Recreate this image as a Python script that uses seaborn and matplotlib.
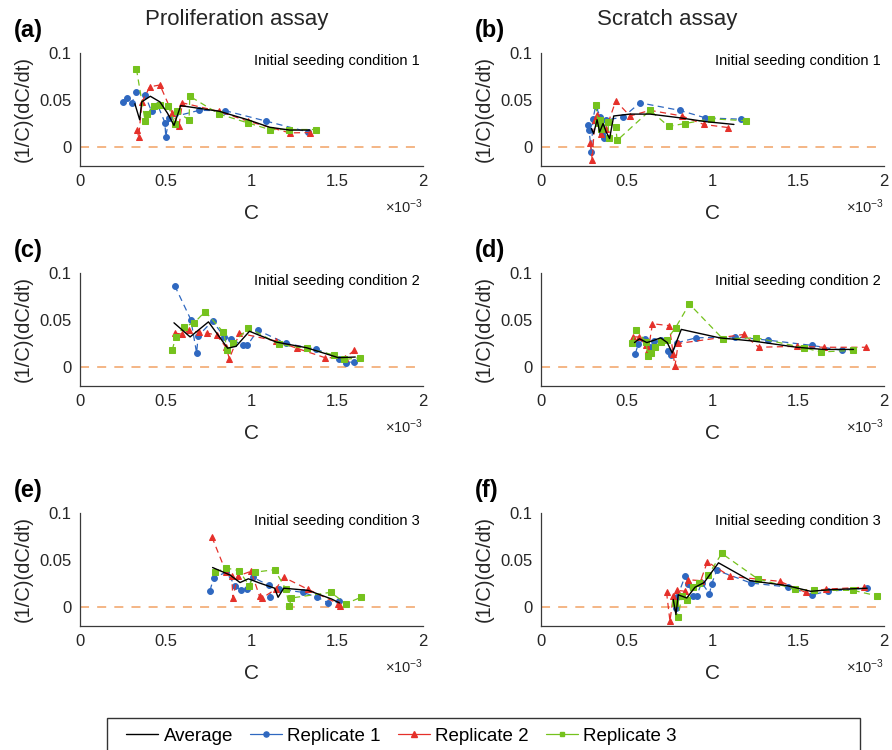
import matplotlib
matplotlib.use("Agg")
import matplotlib.pyplot as plt
from matplotlib.lines import Line2D
from matplotlib.patches import Rectangle
import seaborn as sns

# ---------------------------------------------------------------------------
# Data: per-capita growth rate (1/C)(dC/dt) against density C (C in units of 1e-3)
# ---------------------------------------------------------------------------
# (a) Proliferation assay, initial seeding condition 1
A_R1_C = [0.25, 0.274, 0.303, 0.329, 0.38, 0.417, 0.452, 0.495, 0.50, 0.52, 0.695, 0.847, 1.086, 1.33]
A_R1_V = [0.048, 0.0525, 0.047, 0.059, 0.055, 0.038, 0.045, 0.026, 0.011, 0.031, 0.039, 0.0386, 0.0275, 0.016]
A_R2_C = [0.333, 0.342, 0.362, 0.407, 0.466, 0.538, 0.577, 0.597, 0.808, 0.978, 1.223, 1.34]
A_R2_V = [0.0186, 0.0107, 0.048, 0.064, 0.066, 0.036, 0.022, 0.047, 0.038, 0.0275, 0.015, 0.0154]
A_R3_C = [0.329, 0.38, 0.391, 0.43, 0.466, 0.515, 0.554, 0.564, 0.636, 0.64, 0.812, 0.978, 1.106, 1.219, 1.376]
A_R3_V = [0.083, 0.0275, 0.035, 0.0436, 0.045, 0.0436, 0.024, 0.038, 0.0286, 0.054, 0.035, 0.0257, 0.0186, 0.0186, 0.0186]
A_AV_C = [0.32, 0.348, 0.36, 0.41, 0.466, 0.51, 0.548, 0.587, 0.812, 0.978, 1.106, 1.223, 1.34]
A_AV_V = [0.046, 0.029, 0.048, 0.054, 0.048, 0.036, 0.023, 0.044, 0.038, 0.029, 0.021, 0.018, 0.018]

# (b) Scratch assay, initial seeding condition 1
B_R1_C = [0.274, 0.28, 0.294, 0.303, 0.319, 0.346, 0.358, 0.37, 0.38, 0.48, 0.577, 0.808, 0.959, 1.164]
B_R1_V = [0.023, 0.018, -0.005, 0.030, 0.0436, 0.032, 0.014, 0.01, 0.0286, 0.032, 0.047, 0.039, 0.031, 0.0296]
B_R2_C = [0.288, 0.299, 0.313, 0.327, 0.352, 0.38, 0.436, 0.519, 0.636, 0.822, 0.949, 1.09]
B_R2_V = [0.004, -0.014, 0.029, 0.034, 0.014, 0.0196, 0.049, 0.033, 0.039, 0.033, 0.024, 0.0207]
B_R3_C = [0.319, 0.333, 0.342, 0.352, 0.391, 0.395, 0.436, 0.444, 0.636, 0.744, 0.841, 0.992, 1.194]
B_R3_V = [0.0446, 0.0257, 0.0286, 0.0196, 0.027, 0.01, 0.021, 0.007, 0.039, 0.022, 0.025, 0.030, 0.028]
B_AV_C = [0.294, 0.307, 0.327, 0.342, 0.362, 0.38, 0.40, 0.424, 0.519, 0.636, 0.812, 0.959, 1.125]
B_AV_V = [0.0196, 0.0143, 0.029, 0.016, 0.025, 0.016, 0.009, 0.033, 0.035, 0.035, 0.031, 0.027, 0.024]

# (c) Proliferation assay, initial seeding condition 2
C_R1_C = [0.552, 0.646, 0.68, 0.689, 0.773, 0.841, 0.88, 0.949, 0.975, 1.037, 1.204, 1.378, 1.513, 1.55, 1.6]
C_R1_V = [0.0866, 0.0505, 0.015, 0.033, 0.049, 0.032, 0.030, 0.023, 0.023, 0.039, 0.025, 0.019, 0.009, 0.0046, 0.0057]
C_R2_C = [0.554, 0.593, 0.636, 0.691, 0.74, 0.796, 0.851, 0.871, 0.93, 1.145, 1.266, 1.429, 1.546, 1.6]
C_R2_V = [0.036, 0.035, 0.039, 0.037, 0.036, 0.034, 0.021, 0.009, 0.036, 0.0276, 0.0198, 0.0099, 0.0099, 0.0177]
C_R3_C = [0.538, 0.558, 0.609, 0.666, 0.73, 0.836, 0.86, 0.894, 0.982, 1.16, 1.321, 1.483, 1.54, 1.634]
C_R3_V = [0.018, 0.032, 0.043, 0.047, 0.059, 0.037, 0.018, 0.025, 0.042, 0.024, 0.0198, 0.0127, 0.008, 0.0099]
C_AV_C = [0.548, 0.642, 0.749, 0.861, 0.91, 0.988, 1.145, 1.321, 1.507, 1.605]
C_AV_V = [0.047, 0.032, 0.048, 0.020, 0.022, 0.038, 0.0265, 0.0205, 0.0099, 0.0106]

# (d) Scratch assay, initial seeding condition 2
D_R1_C = [0.55, 0.566, 0.605, 0.634, 0.66, 0.697, 0.742, 0.757, 0.794, 0.903, 1.132, 1.321, 1.58, 1.756]
D_R1_V = [0.014, 0.024, 0.030, 0.021, 0.0276, 0.029, 0.017, 0.0127, 0.0258, 0.031, 0.032, 0.0286, 0.023, 0.0177]
D_R2_C = [0.537, 0.572, 0.611, 0.625, 0.65, 0.748, 0.771, 0.781, 0.80, 1.181, 1.269, 1.493, 1.653, 1.894]
D_R2_V = [0.032, 0.032, 0.023, 0.0177, 0.046, 0.044, 0.0134, 0.001, 0.025, 0.0346, 0.021, 0.022, 0.021, 0.021]
D_R3_C = [0.531, 0.556, 0.611, 0.625, 0.644, 0.664, 0.699, 0.732, 0.785, 0.865, 1.06, 1.256, 1.533, 1.631, 1.822]
D_R3_V = [0.026, 0.039, 0.027, 0.0117, 0.015, 0.0216, 0.027, 0.0286, 0.042, 0.067, 0.030, 0.031, 0.0205, 0.016, 0.0177]
D_AV_C = [0.545, 0.574, 0.617, 0.652, 0.697, 0.736, 0.765, 0.818, 1.042, 1.237, 1.491, 1.647, 1.822]
D_AV_V = [0.026, 0.030, 0.026, 0.028, 0.031, 0.026, 0.015, 0.040, 0.031, 0.0276, 0.021, 0.0187, 0.0187]

# (e) Proliferation assay, initial seeding condition 3
E_R1_C = [0.758, 0.779, 0.852, 0.906, 0.937, 0.973, 1.008, 1.102, 1.11, 1.161, 1.298, 1.384, 1.448, 1.513, 1.55]
E_R1_V = [0.0174, 0.031, 0.037, 0.0227, 0.018, 0.019, 0.0316, 0.023, 0.0106, 0.019, 0.0156, 0.0103, 0.0043, 0.006, 0.003]
E_R2_C = [0.769, 0.852, 0.885, 0.891, 0.92, 0.998, 1.047, 1.063, 1.141, 1.188, 1.327, 1.507, 1.517]
E_R2_V = [0.0745, 0.037, 0.033, 0.0096, 0.033, 0.038, 0.0113, 0.0096, 0.019, 0.0316, 0.019, 0.0035, 0.0014]
E_R3_C = [0.789, 0.852, 0.926, 0.988, 1.018, 1.135, 1.20, 1.22, 1.233, 1.462, 1.55, 1.638]
E_R3_V = [0.037, 0.0415, 0.0387, 0.0227, 0.037, 0.0397, 0.019, 0.0014, 0.0096, 0.0156, 0.0035, 0.0103]
E_AV_C = [0.773, 0.875, 0.933, 0.982, 1.047, 1.135, 1.155, 1.188, 1.33, 1.467, 1.513]
E_AV_V = [0.042, 0.034, 0.026, 0.030, 0.0255, 0.020, 0.0103, 0.020, 0.0177, 0.0085, 0.0043]

# (f) Scratch assay, initial seeding condition 3
F_R1_C = [0.787, 0.795, 0.84, 0.86, 0.884, 0.908, 0.937, 0.982, 0.996, 1.025, 1.224, 1.438, 1.58, 1.672, 1.902]
F_R1_V = [-0.001, 0.011, 0.0326, 0.025, 0.012, 0.012, 0.026, 0.014, 0.025, 0.039, 0.0255, 0.0213, 0.013, 0.0167, 0.020]
F_R2_C = [0.732, 0.752, 0.771, 0.795, 0.84, 0.86, 0.931, 0.97, 1.103, 1.392, 1.543, 1.66, 1.884]
F_R2_V = [0.0156, -0.015, 0.0113, 0.0177, 0.0167, 0.029, 0.028, 0.048, 0.0326, 0.0273, 0.0156, 0.019, 0.021]
F_R3_C = [0.781, 0.80, 0.82, 0.85, 0.884, 0.923, 0.975, 1.054, 1.263, 1.483, 1.594, 1.82, 1.957]
F_R3_V = [0.004, -0.011, 0.012, 0.007, 0.021, 0.026, 0.034, 0.057, 0.030, 0.019, 0.0177, 0.0177, 0.012]
F_AV_C = [0.771, 0.787, 0.80, 0.85, 0.898, 0.951, 1.035, 1.22, 1.435, 1.572, 1.687, 1.902]
F_AV_V = [0.008, -0.008, 0.013, 0.0096, 0.021, 0.026, 0.047, 0.028, 0.0227, 0.0167, 0.0184, 0.020]

PANEL_LABELS = ["(a)", "(b)", "(c)", "(d)", "(e)", "(f)"]
COLUMN_TITLES = ["Proliferation assay", "Scratch assay"]
CONDITION_TEXT = ["Initial seeding condition 1", "Initial seeding condition 2",
                  "Initial seeding condition 3"]
LEGEND_LABELS = ["Average", "Replicate 1", "Replicate 2", "Replicate 3"]
X_TICKS = [0, 0.5, 1, 1.5, 2]
X_TICK_LABELS = ["0", "0.5", "1", "1.5", "2"]
Y_TICKS = [0, 0.05, 0.1]
Y_TICK_LABELS = ["0", "0.05", "0.1"]

PANELS = [
    (A_AV_C, A_AV_V, A_R1_C, A_R1_V, A_R2_C, A_R2_V, A_R3_C, A_R3_V),
    (B_AV_C, B_AV_V, B_R1_C, B_R1_V, B_R2_C, B_R2_V, B_R3_C, B_R3_V),
    (C_AV_C, C_AV_V, C_R1_C, C_R1_V, C_R2_C, C_R2_V, C_R3_C, C_R3_V),
    (D_AV_C, D_AV_V, D_R1_C, D_R1_V, D_R2_C, D_R2_V, D_R3_C, D_R3_V),
    (E_AV_C, E_AV_V, E_R1_C, E_R1_V, E_R2_C, E_R2_V, E_R3_C, E_R3_V),
    (F_AV_C, F_AV_V, F_R1_C, F_R1_V, F_R2_C, F_R2_V, F_R3_C, F_R3_V),
]

# ---------------------------------------------------------------------------
# Styling
# ---------------------------------------------------------------------------
sns.set_theme(style="white")
plt.rcParams["font.family"] = ["Liberation Sans", "DejaVu Sans"]
plt.rcParams["mathtext.fontset"] = "custom"
plt.rcParams["mathtext.rm"] = "Liberation Sans"

BLUE = "#2F68C0"
RED = "#E5302A"
GREEN = "#75C21D"
ZERO = "#F3B07C"
TXT = "#262626"
AXC = "#3a3a3a"
REP_STYLE = [(BLUE, "o", 4.2), (RED, "^", 5.0), (GREEN, "s", 4.0)]
DASH = (0, (5, 3.5))

W, H = 892, 750
fig = plt.figure(figsize=(W / 100, H / 100), dpi=100)

col_left = [80, 541]          # pixel x of the y axis
row_zero = [147, 367, 607]    # pixel y of the zero line
ax_w = 343
unit = 94                     # pixels per 0.1

for idx, data in enumerate(PANELS):
    r, c = divmod(idx, 2)
    top = row_zero[r] - unit
    bottom = row_zero[r] + unit * 0.2
    ax = fig.add_axes([col_left[c] / W, 1 - bottom / H, ax_w / W, (bottom - top) / H])

    ax.axhline(0, color=ZERO, lw=1.3, ls=(0, (5, 4.5)), zorder=1)

    av_c, av_v = data[0], data[1]
    for k, (col, mk, ms) in enumerate(REP_STYLE):
        cx, vy = data[2 + 2 * k], data[3 + 2 * k]
        sns.lineplot(x=cx, y=vy, ax=ax, sort=False, estimator=None, color=col,
                     linestyle=DASH, linewidth=0.9, marker=mk, markersize=ms,
                     markeredgecolor=col, markerfacecolor=col, zorder=2 + k)
    sns.lineplot(x=av_c, y=av_v, ax=ax, sort=False, estimator=None, color="black",
                 linewidth=1.0, zorder=6)

    ax.set_xlim(0, 2)
    ax.set_ylim(-0.02, 0.1)
    ax.set_xticks(X_TICKS)
    ax.set_xticklabels(X_TICK_LABELS)
    ax.set_yticks(Y_TICKS)
    ax.set_yticklabels(Y_TICK_LABELS)
    ax.tick_params(direction="in", length=4, width=0.8, colors=AXC,
                   labelcolor=TXT, labelsize=12, pad=6)
    for side in ("top", "right"):
        ax.spines[side].set_visible(False)
    for side in ("left", "bottom"):
        ax.spines[side].set_color(AXC)
        ax.spines[side].set_linewidth(0.9)

    ax.set_xlabel("C", fontsize=15, color=TXT, labelpad=11)
    ax.set_ylabel("(1/C)(dC/dt)", fontsize=14.5, color=TXT, labelpad=5)
    ax.text(1.0, -0.36, r"$\mathregular{\times10^{-3}}$", transform=ax.transAxes,
            ha="right", va="center", fontsize=10.5, color=TXT)
    ax.text(0.99, 0.93, CONDITION_TEXT[r], transform=ax.transAxes,
            ha="right", va="center", fontsize=10.5, color="black")

    fig.text((col_left[c] - 66) / W, 1 - (row_zero[r] - 116) / H, PANEL_LABELS[idx],
             fontsize=17, fontweight="bold", ha="left", va="center", color="black")

fig.text(237 / W, 1 - 19 / H, COLUMN_TITLES[0], fontsize=16, ha="center", va="center", color=TXT)
fig.text(667 / W, 1 - 19 / H, COLUMN_TITLES[1], fontsize=16, ha="center", va="center", color=TXT)

# legend frame (runs past the bottom edge) and entries
fig.patches.append(Rectangle((107 / W, -0.05), (860 - 107) / W, 0.05 + (H - 718) / H,
                             transform=fig.transFigure, fill=False,
                             edgecolor="#333333", lw=1.0))
handles = [Line2D([], [], color="black", lw=1.0)]
for col, mk, ms in REP_STYLE:
    handles.append(Line2D([], [], color=col, lw=0.9, marker=mk, markersize=ms - 0.5,
                          markeredgecolor=col, markerfacecolor=col))
fig.legend(handles, LEGEND_LABELS, loc="center left", ncol=4, frameon=False,
           bbox_to_anchor=(126 / W, 1 - 736 / H), fontsize=13.5, handlelength=1.7,
           handletextpad=0.3, columnspacing=0.9, labelcolor="black", borderaxespad=0,
           borderpad=0)

fig.savefig("out.png", dpi=100)
